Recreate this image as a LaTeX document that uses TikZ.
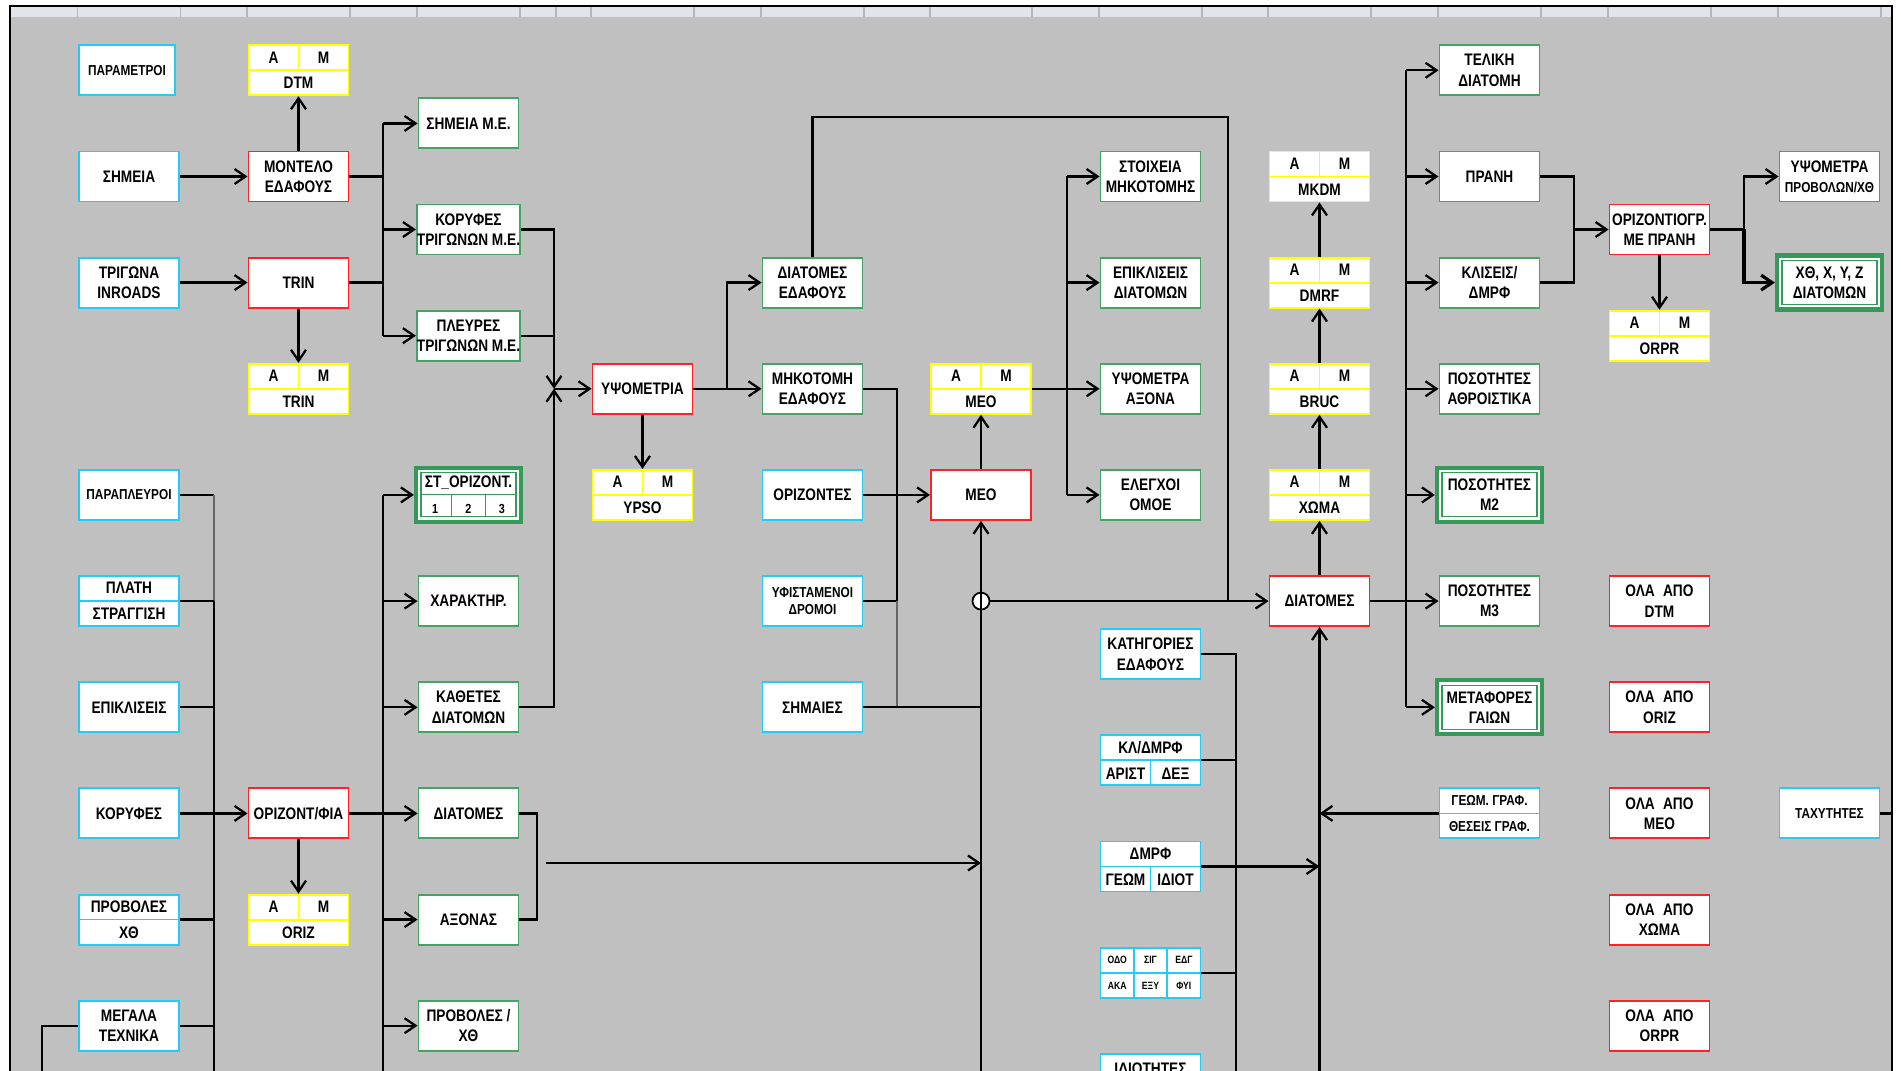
\documentclass[tikz,border=0pt]{standalone}
\usepackage{fontspec}
\newfontfamily\cellfont{Liberation Sans}[FakeStretch=0.82]
\usepackage{tikz}
\usetikzlibrary{arrows.meta,calc}
\definecolor{sheetgray}{HTML}{C0C0C0}
\definecolor{headgray}{HTML}{E1E4E9}
\definecolor{headrule}{HTML}{B3B8C0}
\definecolor{incyan}{HTML}{22CCF5}
\definecolor{procred}{HTML}{FF2222}
\definecolor{outgreen}{HTML}{45A366}
\definecolor{finalgreen}{HTML}{35995A}
\definecolor{fileyellow}{HTML}{FFFF00}
\newcommand{\amcells}[1]{\makebox[1cm]{A}\makebox[1cm]{M}\\#1}
\newcommand{\twocells}[2]{\makebox[1cm]{#1}\makebox[1cm]{#2}}
\newcommand{\threecells}[3]{\makebox[0.667cm]{#1}\makebox[0.667cm]{#2}\makebox[0.667cm]{#3}}
\tikzset{
  cellbox/.style={
    rectangle, fill=white, line width=1.1pt,
    minimum width=2cm, minimum height=1cm,
    inner xsep=0pt, inner ysep=1pt, align=center,
    font=\cellfont\bfseries\fontsize{9.5}{11.5}\selectfont
  },
  smalltext/.style={font=\cellfont\bfseries\fontsize{8.2}{10}\selectfont},
  splittext/.style={font=\cellfont\bfseries\fontsize{9.5}{14.7}\selectfont},
  inbox/.style={cellbox, draw=incyan},
  procbox/.style={cellbox, draw=procred},
  outbox/.style={cellbox, draw=outgreen},
  finalbox/.style={
    cellbox, draw=finalgreen, line width=2.4pt,
    minimum width=2.1cm, minimum height=1.08cm,
    path picture={\draw[finalgreen, line width=0.6pt]
      ([shift={(0.1cm,-0.1cm)}]path picture bounding box.north west) rectangle
      ([shift={(-0.1cm,0.1cm)}]path picture bounding box.south east);}
  },
  % ── split cells ──
  filebox/.style={
    cellbox, splittext, draw=fileyellow,
    path picture={\draw[fileyellow, line width=1.1pt]
      (path picture bounding box.west) -- (path picture bounding box.east)
      (path picture bounding box.north) -- (path picture bounding box.center);}
  },
  inhalf/.style={
    inbox, splittext,
    path picture={\draw[incyan, line width=1pt]
      (path picture bounding box.west) -- (path picture bounding box.east);}
  },
  inlow/.style={
    inbox, splittext,
    path picture={\draw[incyan, line width=1pt]
      (path picture bounding box.west) -- (path picture bounding box.east)
      (path picture bounding box.center) -- (path picture bounding box.south);}
  },
  ingrid/.style={
    inbox, font=\cellfont\bfseries\fontsize{6}{14.7}\selectfont,
    path picture={\draw[incyan, line width=1pt]
      (path picture bounding box.west) -- (path picture bounding box.east)
      ([xshift=-0.333cm]path picture bounding box.north) -- ([xshift=-0.333cm]path picture bounding box.south)
      ([xshift=0.333cm]path picture bounding box.north) -- ([xshift=0.333cm]path picture bounding box.south);}
  },
  finalgrid/.style={
    finalbox, font=\cellfont\bfseries\fontsize{9.5}{14.7}\selectfont,
    path picture={\draw[finalgreen, line width=0.6pt]
      ([shift={(0.1cm,-0.1cm)}]path picture bounding box.north west) rectangle
      ([shift={(-0.1cm,0.1cm)}]path picture bounding box.south east)
      ([xshift=0.1cm]path picture bounding box.west) -- ([xshift=-0.1cm]path picture bounding box.east)
      ([xshift=-0.333cm]path picture bounding box.center) -- ([shift={(-0.333cm,0.1cm)}]path picture bounding box.south)
      ([xshift=0.333cm]path picture bounding box.center) -- ([shift={(0.333cm,0.1cm)}]path picture bounding box.south);}
  },
  % ── connectors ──
  flowline/.style={line width=1.3pt, black},
  faintline/.style={line width=0.8pt, black!60},
  flowarrow/.style={-{Straight Barb[length=0.22cm, width=0.3cm]}, line width=1.3pt, black},
  junction/.style={circle, draw, fill=white, line width=1pt, minimum size=0.34cm, inner sep=0pt},
}

\begin{document}
\begin{tikzpicture}[x=0.02cm, y=-0.02cm]
\useasboundingbox (0,0) rectangle (1901,1071);
\clip (0,0) rectangle (1901,1071);

% sheet and header strip
\fill[white] (0,0) rectangle (1901,1071);
\fill[sheetgray] (10,17) rectangle (1892,1080);
\fill[headgray] (10,6) rectangle (1892,17);
\foreach \x in {77.6,180.6,247,350,417,520,556,591,694,761,864,930,1032,1099,1202,1268,1371,1438,1541,1608,1711,1778,1881}
  \draw[headrule, line width=0.6pt] (\x,7) -- (\x,17);
\draw[line width=1.4pt] (10,1080) -- (10,6) -- (1892,6) -- (1892,1080);

% inputs, first column
\node[inbox, smalltext, minimum width=1.92cm] (params) at (127,70.3) {ΠΑΡΑΜΕΤΡΟΙ};
\node[inbox] (simeia) at (129,176.5) {ΣΗΜΕΙΑ};
\node[inbox] (trigona) at (129,282.6) {ΤΡΙΓΩΝΑ\\INROADS};
\node[inbox, smalltext] (paraplevroi) at (129,494.9) {ΠΑΡΑΠΛΕΥΡΟΙ};
\node[inhalf] (plati) at (129,601.1) {ΠΛΑΤΗ\\ΣΤΡΑΓΓΙΣΗ};
\node[inbox] (epikliseis) at (129,707.3) {ΕΠΙΚΛΙΣΕΙΣ};
\node[inbox] (koryfes) at (129,813.4) {ΚΟΡΥΦΕΣ};
\node[inhalf] (provoles) at (129,919.6) {ΠΡΟΒΟΛΕΣ\\ΧΘ};
\node[inbox] (megala) at (129,1025.7) {ΜΕΓΑΛΑ\\ΤΕΧΝΙΚΑ};

% ground model and horizontal layout
\node[filebox] (dtm) at (298.5,70.3) {\amcells{DTM}};
\node[procbox] (montelo) at (298.5,176.5) {ΜΟΝΤΕΛΟ\\ΕΔΑΦΟΥΣ};
\node[procbox] (trin) at (298.5,282.6) {TRIN};
\node[filebox] (trinam) at (298.5,388.8) {\amcells{TRIN}};
\node[procbox] (orizfia) at (298.5,813.4) {ΟΡΙΖΟΝΤ/ΦΙΑ};
\node[filebox] (oriz) at (298.5,919.6) {\amcells{ORIZ}};

\node[outbox] (simeiame) at (468.5,123.4) {ΣΗΜΕΙΑ Μ.Ε.};
\node[outbox] (koryfestr) at (468.5,229.5) {ΚΟΡΥΦΕΣ\\ΤΡΙΓΩΝΩΝ Μ.Ε.};
\node[outbox] (plevres) at (468.5,335.7) {ΠΛΕΥΡΕΣ\\ΤΡΙΓΩΝΩΝ Μ.Ε.};
\node[finalgrid] (storiz) at (468.5,494.9) {ΣΤ\_ΟΡΙΖΟΝΤ.\\{\fontsize{7.5}{14.7}\selectfont\threecells{1}{2}{3}}};
\node[outbox] (xaraktir) at (468.5,601.1) {ΧΑΡΑΚΤΗΡ.};
\node[outbox] (kathetes) at (468.5,707.3) {ΚΑΘΕΤΕΣ\\ΔΙΑΤΟΜΩΝ};
\node[outbox] (diatomesor) at (468.5,813.4) {ΔΙΑΤΟΜΕΣ};
\node[outbox] (axonas) at (468.5,919.6) {ΑΞΟΝΑΣ};
\node[outbox] (provolesxth) at (468.5,1025.7) {ΠΡΟΒΟΛΕΣ /\\ΧΘ};

% elevations and MEO
\node[procbox] (ypsometria) at (642.5,388.8) {ΥΨΟΜΕΤΡΙΑ};
\node[filebox] (ypso) at (642.5,494.9) {\amcells{YPSO}};

\node[outbox] (diated) at (812.5,282.6) {ΔΙΑΤΟΜΕΣ\\ΕΔΑΦΟΥΣ};
\node[outbox] (mikotomi) at (812.5,388.8) {ΜΗΚΟΤΟΜΗ\\ΕΔΑΦΟΥΣ};
\node[inbox] (orizontes) at (812.5,494.9) {ΟΡΙΖΟΝΤΕΣ};
\node[inbox, smalltext] (yfist) at (812.5,601.1) {ΥΦΙΣΤΑΜΕΝΟΙ\\ΔΡΟΜΟΙ};
\node[inbox] (simaies) at (812.5,707.3) {ΣΗΜΑΙΕΣ};

\node[filebox] (meoam) at (981,388.8) {\amcells{MEO}};
\node[procbox] (meo) at (981,494.9) {ΜΕΟ};

\node[outbox] (stoixeia) at (1150.5,176.5) {ΣΤΟΙΧΕΙΑ\\ΜΗΚΟΤΟΜΗΣ};
\node[outbox] (epikldiat) at (1150.5,282.6) {ΕΠΙΚΛΙΣΕΙΣ\\ΔΙΑΤΟΜΩΝ};
\node[outbox] (ypsaxona) at (1150.5,388.8) {ΥΨΟΜΕΤΡΑ\\ΑΞΟΝΑ};
\node[outbox] (elegxoi) at (1150.5,494.9) {ΕΛΕΓΧΟΙ\\ΟΜΟΕ};
\node[inbox] (katigories) at (1150.5,654.2) {ΚΑΤΗΓΟΡΙΕΣ\\ΕΔΑΦΟΥΣ};
\node[inlow] (kldmrf) at (1150.5,760.3) {ΚΛ/ΔΜΡΦ\\\twocells{ΑΡΙΣΤ}{ΔΕΞ}};
\node[inlow] (dmrf) at (1150.5,866.5) {ΔΜΡΦ\\\twocells{ΓΕΩΜ}{ΙΔΙΟΤ}};
\node[ingrid] (odo) at (1150.5,972.7) {\threecells{ΟΔΟ}{ΣΙΓ}{ΕΔΓ}\\\threecells{ΑΚΑ}{ΕΞΥ}{ΦΥΙ}};
\node[inbox] (idiotites) at (1150.5,1078.8) {ΙΔΙΟΤΗΤΕΣ\\\mbox{}};

% sections
\node[filebox] (mkdm) at (1319.5,176.5) {\amcells{MKDM}};
\node[filebox] (dmrfam) at (1319.5,282.6) {\amcells{DMRF}};
\node[filebox] (bruc) at (1319.5,388.8) {\amcells{BRUC}};
\node[filebox] (xoma) at (1319.5,494.9) {\amcells{ΧΩΜΑ}};
\node[procbox] (diatomes) at (1319.5,601.1) {ΔΙΑΤΟΜΕΣ};
\node[junction] (cross) at (meo.south |- diatomes.west) {};

\node[outbox] (teliki) at (1489.5,70.3) {ΤΕΛΙΚΗ\\ΔΙΑΤΟΜΗ};
\node[outbox] (prani) at (1489.5,176.5) {ΠΡΑΝΗ};
\node[outbox] (kliseis) at (1489.5,282.6) {ΚΛΙΣΕΙΣ/\\ΔΜΡΦ};
\node[outbox] (posathr) at (1489.5,388.8) {ΠΟΣΟΤΗΤΕΣ\\ΑΘΡΟΙΣΤΙΚΑ};
\node[finalbox] (posm2) at (1489.5,494.9) {ΠΟΣΟΤΗΤΕΣ\\Μ2};
\node[outbox] (posm3) at (1489.5,601.1) {ΠΟΣΟΤΗΤΕΣ\\Μ3};
\node[finalbox] (metafores) at (1489.5,707.3) {ΜΕΤΑΦΟΡΕΣ\\ΓΑΙΩΝ};
\node[inhalf, font=\cellfont\bfseries\fontsize{8.2}{14.7}\selectfont] (geomgraf) at (1489.5,813.4) {ΓΕΩΜ. ΓΡΑΦ.\\ΘΕΣΕΙΣ ΓΡΑΦ.};

% plan with slopes and exports
\node[procbox] (orizpr) at (1659.5,229.5) {ΟΡΙΖΟΝΤΙΟΓΡ.\\ΜΕ ΠΡΑΝΗ};
\node[filebox] (orpr) at (1659.5,335.7) {\amcells{ORPR}};
\node[procbox] (oladtm) at (1659.5,601.1) {ΟΛΑ\enspace ΑΠΟ\\DTM};
\node[procbox] (olaoriz) at (1659.5,707.3) {ΟΛΑ\enspace ΑΠΟ\\ORIZ};
\node[procbox] (olameo) at (1659.5,813.4) {ΟΛΑ\enspace ΑΠΟ\\ΜΕΟ};
\node[procbox] (olaxoma) at (1659.5,919.6) {ΟΛΑ\enspace ΑΠΟ\\ΧΩΜΑ};
\node[procbox] (olaorpr) at (1659.5,1025.7) {ΟΛΑ\enspace ΑΠΟ\\ORPR};

\node[outbox] (ypsprov) at (1829.5,176.5) {ΥΨΟΜΕΤΡΑ\\{\fontsize{8.2}{10}\selectfont ΠΡΟΒΟΛΩΝ/ΧΘ}};
\node[finalbox] (xthxyz) at (1829.5,282.6) {ΧΘ, Χ, Υ, Ζ\\ΔΙΑΤΟΜΩΝ};
\node[inbox, smalltext] (taxytites) at (1829.5,813.4) {ΤΑΧΥΤΗΤΕΣ};

% bus columns
\coordinate (xA) at (42,0);
\coordinate (xC) at (214,0);
\coordinate (xE) at (383,0);
\coordinate (xG) at (537,0);
\coordinate (xH) at (554,0);
\coordinate (xJ) at (727,0);
\coordinate (xL) at (897,0);
\coordinate (xN) at (1067,0);
\coordinate (xP) at (1236,0);
\coordinate (loop) at (1228,117);
\coordinate (xR) at (1406,0);
\coordinate (xT) at (1574,0);
\coordinate (xV) at (1744,0);
\coordinate (edge) at (1892,0);
\coordinate (bot) at (0,1080);
\coordinate (secaxis) at (546,863);

% ground model
\draw[flowarrow] (simeia) -- (montelo);
\draw[flowarrow] (trigona) -- (trin);
\draw[flowarrow] (montelo) -- (dtm);
\draw[flowarrow] (trin) -- (trinam);
\draw[flowline] (montelo.east) -- (montelo.east -| xE);
\draw[flowline] (trin.east) -- (trin.east -| xE);
\draw[flowline] (simeiame.west -| xE) -- (plevres.west -| xE);
\foreach \n in {simeiame,koryfestr,plevres}
  \draw[flowarrow] (\n.west -| xE) -- (\n.west);

% into the elevations
\draw[flowarrow] (koryfestr.east) -| (ypsometria.west -| xH);
\draw[flowline] (plevres.east) -- (plevres.east -| xH);
\draw[flowarrow] (kathetes.east) -| (ypsometria.west -| xH);
\draw[flowarrow] (ypsometria.west -| xH) -- (ypsometria.west);
\draw[flowarrow] (ypsometria) -- (ypso);
\draw[flowarrow] (ypsometria) -- (mikotomi);
\draw[flowarrow] (ypsometria.east -| xJ) |- (diated.west);
\draw[flowline] (diated.north) |- (loop) -- (loop |- diatomes.west);

% side inputs
\draw[flowline] (paraplevroi.east) -- (paraplevroi.east -| xC);
\draw[faintline] (paraplevroi.east -| xC) -- (plati.east -| xC);
\draw[flowline] (plati.east -| xC) -- (xC |- bot);
\foreach \n in {plati,epikliseis,provoles,megala}
  \draw[flowline] (\n.east) -- (\n.east -| xC);
\draw[flowline] (megala.west) -| (xA |- bot);
\draw[flowarrow] (koryfes) -- (orizfia);
\draw[flowarrow] (orizfia) -- (oriz);
\draw[flowline] (orizfia.east) -- (orizfia.east -| xE);
\draw[flowline] (storiz.west -| xE) -- (xE |- bot);
\foreach \n in {storiz,xaraktir,kathetes,diatomesor,axonas,provolesxth}
  \draw[flowarrow] (\n.west -| xE) -- (\n.west);
\draw[flowline] (diatomesor.east) -| (axonas.east -| xG) -- (axonas.east);
\draw[flowarrow] (secaxis) -- (secaxis -| meo.south);

% MEO
\draw[flowline] (mikotomi.east) -| (yfist.east -| xL);
\draw[flowline] (yfist.east) -- (yfist.east -| xL);
\draw[faintline] (yfist.east -| xL) -- (simaies.east -| xL);
\draw[flowline] (simaies.east) -- (simaies.east -| meo.south);
\draw[flowarrow] (orizontes) -- (meo);
\draw[flowarrow] (meo.south |- bot) -- (meo.south);
\draw[flowarrow] (meo) -- (meoam);
\draw[flowarrow] (meoam) -- (ypsaxona);
\draw[flowline] (stoixeia.west -| xN) -- (elegxoi.west -| xN);
\foreach \n in {stoixeia,epikldiat,elegxoi}
  \draw[flowarrow] (\n.west -| xN) -- (\n.west);
\draw[flowarrow] (cross) -- (diatomes);

% sections
\draw[flowarrow] (diatomes) -- (xoma);
\draw[flowarrow] (xoma) -- (bruc);
\draw[flowarrow] (bruc) -- (dmrfam);
\draw[flowarrow] (dmrfam) -- (mkdm);
\draw[flowarrow] (diatomes) -- (posm3);
\draw[flowline, line width=1.6pt] (teliki.west -| xR) -- (posm3.west -| xR);
\draw[flowline] (posm3.west -| xR) -- (metafores.west -| xR);
\foreach \n in {teliki,prani,kliseis,posathr,posm2,metafores}
  \draw[flowarrow] (\n.west -| xR) -- (\n.west);
\draw[flowline] (katigories.east) -| (xP |- bot);
\foreach \n in {kldmrf,odo}
  \draw[flowline] (\n.east) -- (\n.east -| xP);
\draw[flowarrow] (dmrf.east) -- (dmrf.east -| diatomes.south);
\draw[flowarrow] (diatomes.south |- bot) -- (diatomes.south);
\draw[flowarrow] (geomgraf) -- (geomgraf.west -| diatomes.south);

% plan with slopes
\draw[flowline] (prani.east) -| (kliseis.east -| xT) -- (kliseis.east);
\draw[flowarrow] (orizpr.west -| xT) -- (orizpr.west);
\draw[flowarrow] (orizpr) -- (orpr);
\draw[flowline] (orizpr.east) -- (orizpr.east -| xV);
\draw[flowarrow] (orizpr.east -| xV) |- (ypsprov.west);
\draw[flowarrow, line width=1.8pt] (orizpr.east -| xV) |- (xthxyz.west);
\draw[flowline] (taxytites.east) -- (taxytites.east -| edge);

\end{tikzpicture}
\end{document}
